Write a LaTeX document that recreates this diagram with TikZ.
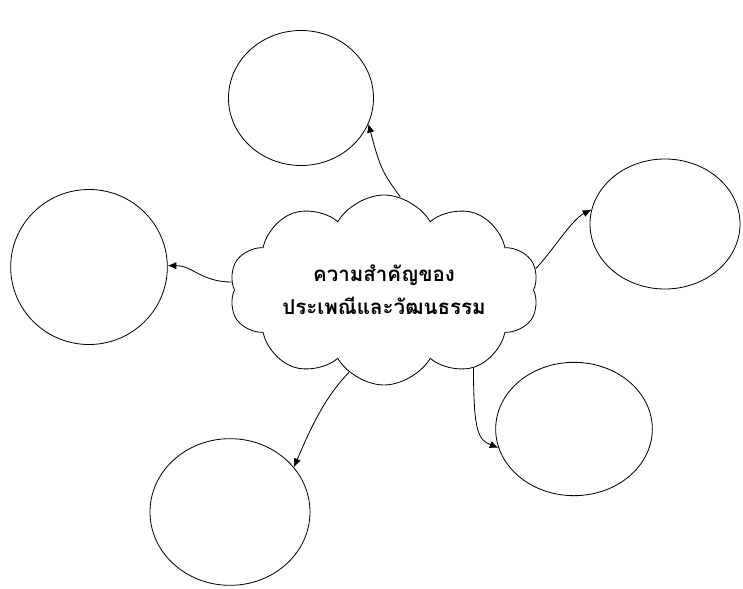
\documentclass[tikz,border=0pt]{standalone}
\usepackage{fontspec}
\newfontfamily\thaifont[Script=Thai]{Loma}
\usetikzlibrary{arrows.meta,shapes.symbols,shapes.geometric,positioning}
\tikzset{
  bubble/.style={draw, ellipse, line width=0.7pt},
  link/.style={->, >={Latex[length=2.6mm,width=2.2mm]}, line width=0.7pt}
}

\begin{document}
\begin{tikzpicture}[x=0.03cm, y=-0.03cm]
  \useasboundingbox (0,0) rectangle (743,589);

  \node (C) [draw, cloud, cloud puffs=10, cloud puff arc=120, cloud ignores aspect,
             line width=0.7pt, minimum width=9.3cm, minimum height=5.7cm, align=center,
             font=\thaifont\bfseries\fontsize{17.5}{28}\selectfont] at (384,290)
             {ความสำคัญของ\\ประเพณีและวัฒนธรรม};

  \node (T) [bubble, minimum width=4.35cm, minimum height=4.05cm] at (301,98) {};
  \node (L) [bubble, minimum width=4.7cm, minimum height=4.65cm] at (89,267) {};
  \node (R) [bubble, minimum width=4.5cm, minimum height=3.9cm] at (665,224) {};
  \node (BR) [bubble, minimum width=4.7cm, minimum height=4.0cm] at (574,429) {};
  \node (BL) [bubble, minimum width=4.8cm, minimum height=4.4cm] at (230,512) {};

  \draw[link] (C.80) .. controls +(-18,-25) and +(12,45) .. (T.-21);
  \draw[link] (C.177) .. controls +(-30,0) and +(25,0) .. (L.1);
  \draw[link] (C.8) .. controls +(15,-15) and +(-20,10) .. (R.169);
  \draw[link] (C.-41) .. controls +(0,65) and +(-20,-8) .. (BR.194);
  \draw[link] (C.-113) .. controls +(-25,25) and +(15,-35) .. (BL.35);
\end{tikzpicture}
\end{document}
